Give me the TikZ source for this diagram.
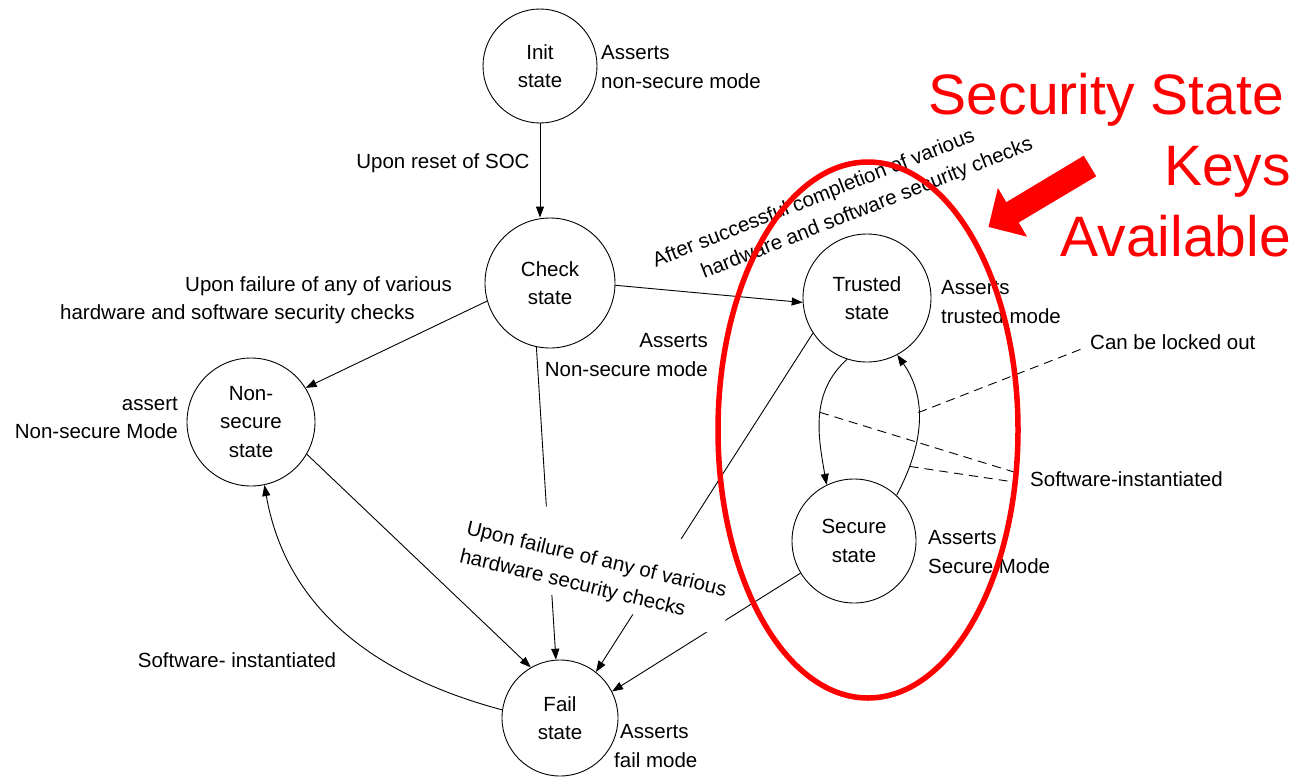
\documentclass[tikz,border=0pt]{standalone}
\usepackage{fontspec}
\setmainfont{Liberation Sans}
\usetikzlibrary{arrows.meta}
\newcommand{\statefont}{\fontsize{20.5}{28.5}\selectfont}
\tikzset{
  state/.style={circle, draw, line width=0.9pt, inner sep=0pt, align=center, font=\statefont},
  note/.style={inner sep=0pt, font=\statefont},
  trans/.style={line width=0.9pt, -{Triangle[length=11pt, width=8pt]}},
  hint/.style={line width=0.9pt, dash pattern=on 9pt off 6pt},
}
\begin{document}
\begin{tikzpicture}[x=1pt, y=-1pt]
    \useasboundingbox (0,0) rectangle (1299,780);
    \node[state, minimum size=114pt] (init) at (540,66) {Init\\state};
    \node[state, minimum size=130pt] (check) at (550,283) {Check\\state};
    \node[state, minimum size=128pt] (trusted) at (867,298) {Trusted\\state};
    \node[state, minimum size=128pt] (nonsecure) at (251,422) {Non-\\secure\\state};
    \node[state, minimum size=124pt] (secure) at (854,541) {Secure\\state};
    \node[state, minimum size=116pt] (fail) at (560,718) {Fail\\state};
    \node[note, align=left, anchor=west] (initnote) at (601,67) {Asserts\\non-secure mode};
    \node[note, align=right, anchor=east] (checknote) at (708,355) {Asserts\\Non-secure mode};
    \node[note, align=right, anchor=east] (nsnote) at (178,418) {assert\\Non-secure Mode};
    \node[note, align=left, anchor=west] (trustnote) at (941,302) {Asserts\\trusted mode};
    \node[note, align=left, anchor=west] (securenote) at (928,552) {Asserts\\Secure Mode};
    \node[note, align=left, anchor=west] (failnote) at (614,746) {\hspace*{6pt}Asserts\\fail mode};
    \node[note, align=left, anchor=west] (nsfail) at (60,300) {\hspace*{125pt}Upon failure of any of various\\hardware and software security checks};
    \node[note, rotate=21.5, align=left] (okchecks) at (843,203) {After successful completion of various\\\hspace*{41pt}hardware and software security checks};
    \node[note] (swback) at (237,660) {Software- instantiated};
    \node[note, anchor=west] (locked) at (1090,342) {Can be locked out};
    \node[note, anchor=west] (swinst) at (1030,479) {Software-instantiated};
    \draw[trans] (init) -- (check.north -| init) node[note, pos=0.42, left=10pt] {Upon reset of SOC};
    \draw[trans] (check.-2) -- (trusted.184);
    \draw[trans] (check.196) -- (nonsecure.32);
    \draw[trans] (check.258) -- (fail.94);
    \draw[trans] (nonsecure.-30) -- (fail.120);
    \draw[trans] (trusted.213) -- (fail.52);
    \draw[trans] (secure.211) -- (fail.27);
    \draw[trans] (fail.172) to[out=165, in=-80] (nonsecure.-78);
    \draw[trans] (trusted.252) to[out=222, in=100] coordinate[pos=0.47] (leftarc) (secure.116);
    \draw[trans] (secure.47) to[out=62, in=-55] coordinate[pos=0.2] (rightlow) coordinate[pos=0.58] (rightup) (trusted.-62);
    \draw[hint] (rightup) -- ([shift={(-6,6)}]locked.west);
    \draw[hint] (leftarc) -- ([shift={(-16,-7)}]swinst.west);
    \draw[hint] (rightlow) -- ([shift={(-16,3)}]swinst.west);
    \node[note, rotate=-13.5, align=left, fill=white, inner sep=6pt] (hwfail) at (596,562) {\rule{0pt}{40pt}Upon failure of any of various\\hardware security checks};
    \draw[red, line width=5.5pt] (868,430) ellipse [x radius=150, y radius=268];
    \fill[red] (1096.2,176.3) -- (1018.7,222.5) -- (1027.1,236.7) -- (988.5,226.9) -- (997.9,188.0) -- (1006.3,202.2) -- (1083.8,155.7) -- cycle;
    \node[text=red, align=right, anchor=north east, inner sep=0pt, font=\fontsize{57}{71}\selectfont] (keys) at (1291,73) {Security State\kern7pt\\Keys\\Available};
\end{tikzpicture}
\end{document}
